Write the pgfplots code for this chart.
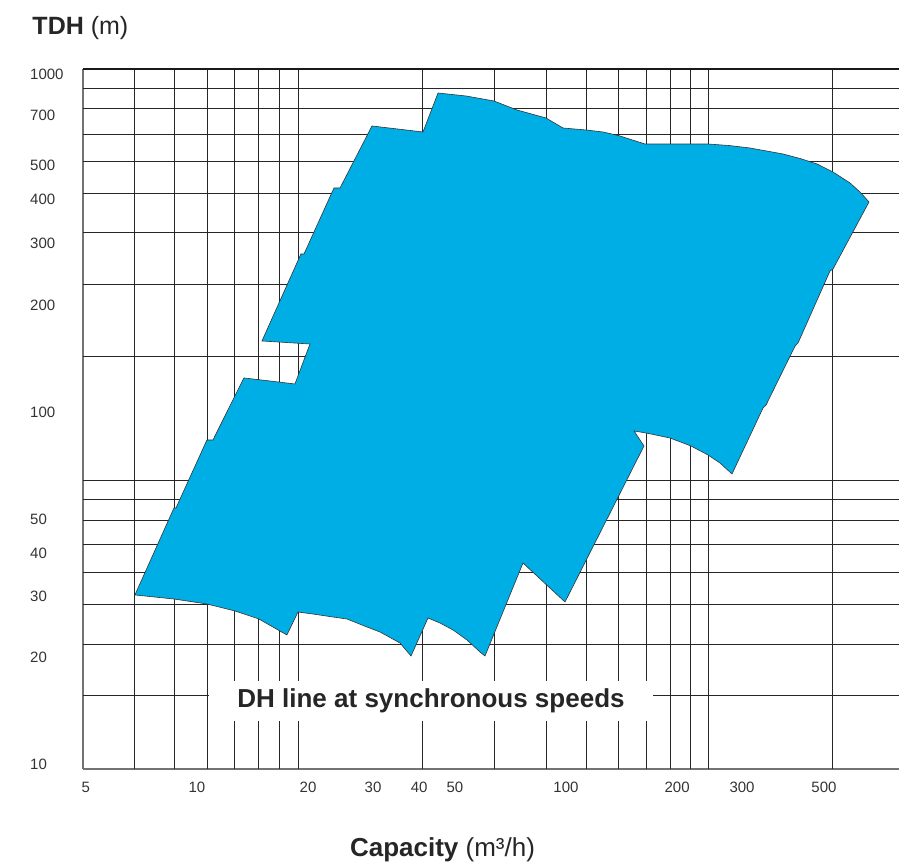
\documentclass[border=0pt]{standalone}
\usepackage{fontspec}
\setmainfont{Liberation Sans}
\usepackage{pgfplots}
\pgfplotsset{compat=1.18}
\definecolor{pumpblue}{RGB}{0,174,230}
\definecolor{inkgray}{RGB}{51,51,51}

\begin{document}
\begin{tikzpicture}
\useasboundingbox (-83pt,-97pt) rectangle (816pt,769pt);
\begin{axis}[
  at={(0pt,0pt)}, anchor=south west,
  width=816pt, height=700pt, scale only axis,
  xmode=log, ymode=log,
  xmin=4.911, xmax=798.8, ymin=10, ymax=1000,
  axis x line*=bottom, axis y line*=left,
  axis line style={black!55, line width=1.1pt},
  xminorticks=false, yminorticks=false,
  major tick length=0pt,
  xtick={5,10,20,30,40,50,100,200,300,500},
  xticklabels={5,10,20,30,40,50,100,200,300,500},
  % label positions as printed (they sit a little off the grid)
  ytick={10.33,20.89,31.2,41.4,51.8,104.4,211.7,318.4,425.2,531.8,738.9,967.6},
  yticklabels={10,20,30,40,50,100,200,300,400,500,700,1000},
  extra x ticks={6.76,8.68,10.64,12.65,14.7,16.71,18.82,40.89,63.93,88.28,113.3,138.9,165.1,191.3,217.7,243.0,528.1},
  extra x tick labels={},
  extra y ticks={16.20,22.71,29.55,36.55,43.79,51.21,58.96,66.63,151.4,242.6,340.6,442.3,543.4,652.1,770.1,882.6},
  extra y tick labels={},
  extra tick style={grid=major, major tick length=0pt},
  major grid style={black!85, line width=0.75pt},
  tick label style={font=\fontsize{15}{18}\selectfont, text=inkgray},
  xticklabel style={anchor=north, inner sep=0pt, yshift=-12.7pt},
  yticklabel style={anchor=west, inner sep=0pt, xshift=-53pt},
]
% operating range envelope
\addplot[fill=pumpblue, draw=black!80, line width=0.6pt] coordinates {
  (6.79,31.42) (8.663,55.68) (8.772,55.68) (10.64,87.1) (11.05,87.1)
  (13.40,131.0) (15.77,128.4) (18.43,125.9) (20.24,163.8) (15.00,167.1)
  (19.13,296.1) (19.50,296.1) (23.51,457.1) (24.41,457.1) (29.80,687.3)
  (40.97,660.7) (45.0,853.9) (53.58,837.3) (63.81,810.1) (73.66,763.6)
  (88.28,724.4) (98.15,678.3) (113.3,669.5) (126.0,660.7) (139.2,644.8)
  (163.7,610.5) (191.3,610.5) (242.6,610.5) (276.5,604.5) (315.2,594.7)
  (387.3,571.7) (430.7,555.0) (478.9,535.3) (529.1,507.8) (588.3,472.4)
  (626.2,445.2) (662.4,416.9)
  (529.1,268.3) (519.3,264.8) (425.4,164.9) (417.5,161.6)
  (348.4,109.6) (341.9,107.5) (281.7,69.64)
  (261.4,74.87) (242.6,78.92) (218.1,83.74) (191.3,88.26) (164.8,91.20) (152.9,92.41)
  (162.7,83.74) (99.38,30.0) (76.47,38.78) (60.32,21.03)
  (58.47,21.59) (53.92,23.37) (49.41,24.96) (45.55,26.13) (42.27,27.0)
  (38.02,21.03) (35.49,22.91) (31.33,24.63) (28.89,25.45) (25.50,26.83)
  (23.37,27.18) (20.62,27.72) (18.78,28.09)
  (17.53,24.15) (14.72,26.83) (12.68,28.28) (10.64,29.61) (8.663,30.60)
} -- cycle;
\end{axis}
\draw[black!90, line width=1.6pt] (0pt,700pt) -- (816pt,700pt);
\node[fill=white, minimum width=444pt, minimum height=40pt, inner sep=0pt,
      font=\fontsize{26}{30}\selectfont\bfseries, text=black!85] at (348pt,68pt)
      {DH line at synchronous speeds};
\node[anchor=base west, inner sep=0pt, font=\fontsize{25}{30}\selectfont, text=black!85]
      at (-50.7pt,734.7pt) {\textbf{TDH} (m)};
\node[anchor=base, inner sep=0pt, font=\fontsize{26}{30}\selectfont, text=black!85]
      at (359.5pt,-88pt) {\textbf{Capacity} (m³/h)};
\end{tikzpicture}
\end{document}
